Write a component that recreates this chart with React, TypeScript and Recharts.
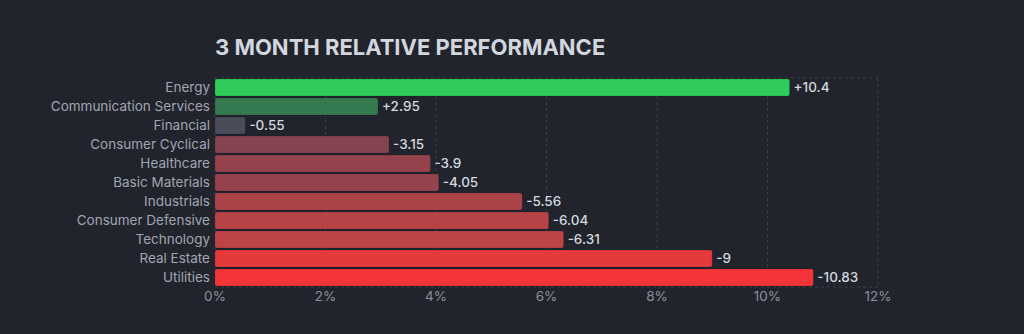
import { BarChart, Bar, XAxis, YAxis, CartesianGrid, Cell, LabelList } from "recharts";

const sectors = [
  "Energy",
  "Communication Services",
  "Financial",
  "Consumer Cyclical",
  "Healthcare",
  "Basic Materials",
  "Industrials",
  "Consumer Defensive",
  "Technology",
  "Real Estate",
  "Utilities",
];

const performance = [10.4, 2.95, -0.55, -3.15, -3.9, -4.05, -5.56, -6.04, -6.31, -9, -10.83];

const barColors = [
  "#2fcc5b",
  "#357a50",
  "#4b4c5a",
  "#844450",
  "#94424c",
  "#96434e",
  "#ab4449",
  "#b64447",
  "#bd4446",
  "#e43a3d",
  "#f43539",
];

const xTicks = [0, 2, 4, 6, 8, 10, 12];

const data = sectors.map((name, i) => ({
  name,
  change: performance[i],
  size: Math.abs(performance[i]),
}));

const fmtChange = (v: number) => (v > 0 ? `+${v}` : `${v}`);

export default function App() {
  return (
    <div
      style={{
        position: "fixed",
        left: 0,
        top: 0,
        width: 1024,
        height: 334,
        background: "#21242d",
        fontFamily: "Inter, sans-serif",
      }}
    >
      <div
        style={{
          position: "absolute",
          left: 215,
          top: 34,
          fontSize: 22,
          fontWeight: 700,
          color: "#d2d6de",
        }}
      >
        3 MONTH RELATIVE PERFORMANCE
      </div>
      <BarChart
        width={1024}
        height={334}
        data={data}
        layout="vertical"
        margin={{ top: 78, right: 146, bottom: 27, left: 0 }}
        barCategoryGap={1}
      >
        <CartesianGrid
          stroke="#3a3e4a"
          strokeDasharray="3 3"
          horizontalCoordinatesGenerator={({ offset }: any) => [offset.top, offset.top + offset.height]}
        />
        <XAxis
          type="number"
          domain={[0, 12]}
          ticks={xTicks}
          height={20}
          tickFormatter={(v: number) => `${v}%`}
          axisLine={false}
          tickLine={false}
          tickSize={0}
          tickMargin={4}
          tick={{ fill: "#8b909b", fontSize: 13.5 }}
        />
        <YAxis
          type="category"
          dataKey="name"
          width={215}
          axisLine={false}
          tickLine={false}
          tickSize={0}
          tickMargin={5}
          interval={0}
          tick={{ fill: "#a0a5b0", fontSize: 13.5 }}
        />
        <Bar
          dataKey="size"
          isAnimationActive={false}
          radius={2}
          stroke="rgba(0,0,0,0.25)"
          strokeDasharray="1 1"
        >
          {data.map((d, i) => (
            <Cell key={d.name} fill={barColors[i]} />
          ))}
          <LabelList
            dataKey="change"
            position="right"
            offset={4}
            formatter={(v: any) => fmtChange(Number(v))}
            style={{ fill: "#d4d7de", fontSize: 13.5, fontWeight: 500 }}
          />
        </Bar>
      </BarChart>
    </div>
  );
}
